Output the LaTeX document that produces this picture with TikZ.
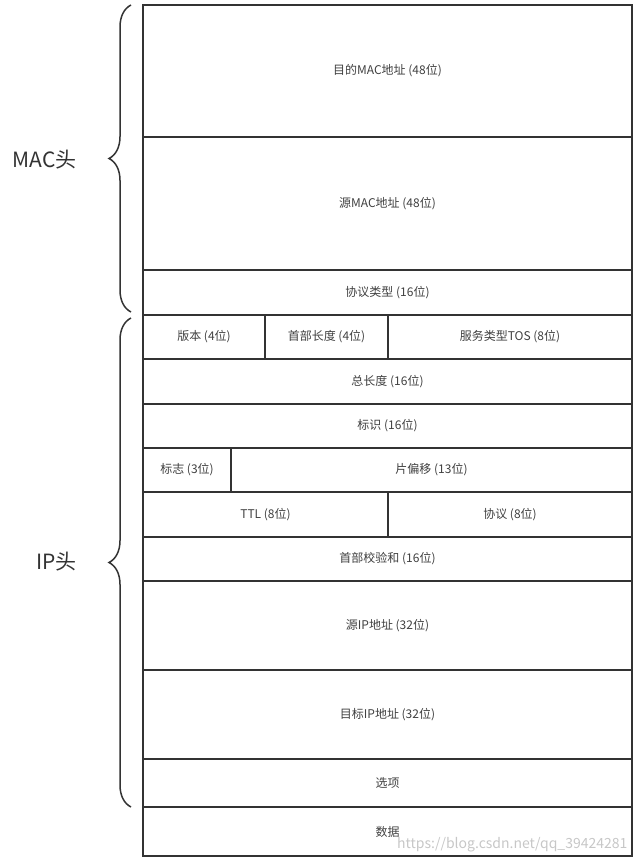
\documentclass[tikz,border=0pt]{standalone}
\usepackage{fontspec}
\setmainfont{Noto Sans CJK SC}
\usetikzlibrary{positioning,decorations.pathreplacing}

\begin{document}
\begin{tikzpicture}[x=1pt, y=-1pt, font=\fontsize{12}{14}\selectfont]
\tikzset{
  cell/.style={rectangle, draw=black!80, line width=1.5pt, inner sep=0pt, outer sep=0pt, anchor=north west, text=black!75},
  brc/.style={decorate, decoration={brace, amplitude=22pt, mirror}, draw=black!80, line width=1.5pt},
  lbl/.style={font=\fontsize{21}{25}\selectfont, text=black!80, anchor=east},
}
\useasboundingbox (0,0) rectangle (636,862);
% MAC header
\node[cell, minimum width=489pt, minimum height=132pt] (dstmac) at (143,5) {目的MAC地址 (48位)};
\node[cell, minimum width=489pt, minimum height=133pt] (srcmac) at (143,137) {源MAC地址 (48位)};
\node[cell, minimum width=489pt, minimum height=45pt] (ethtype) at (143,270) {协议类型 (16位)};
% IP header
\node[cell, minimum width=122pt, minimum height=44pt] (ver) at (143,315) {版本 (4位)};
\node[cell, minimum width=123pt, minimum height=44pt] (hlen) at (265,315) {首部长度 (4位)};
\node[cell, minimum width=244pt, minimum height=44pt] (tos) at (388,315) {服务类型TOS (8位)};
\node[cell, minimum width=489pt, minimum height=45pt] (totlen) at (143,359) {总长度 (16位)};
\node[cell, minimum width=489pt, minimum height=44pt] (ident) at (143,404) {标识 (16位)};
\node[cell, minimum width=88pt, minimum height=44pt] (flags) at (143,448) {标志 (3位)};
\node[cell, minimum width=401pt, minimum height=44pt] (fragoff) at (231,448) {片偏移 (13位)};
\node[cell, minimum width=245pt, minimum height=45pt] (ttl) at (143,492) {TTL (8位)};
\node[cell, minimum width=244pt, minimum height=45pt] (proto) at (388,492) {协议 (8位)};
\node[cell, minimum width=489pt, minimum height=44pt] (hcksum) at (143,537) {首部校验和 (16位)};
\node[cell, minimum width=489pt, minimum height=89pt] (srcip) at (143,581) {源IP地址 (32位)};
\node[cell, minimum width=489pt, minimum height=89pt] (dstip) at (143,670) {目标IP地址 (32位)};
\node[cell, minimum width=489pt, minimum height=48pt] (opts) at (143,759) {选项};
% payload
\node[cell, minimum width=489pt, minimum height=49pt] (payload) at (143,807) {数据};
% braces
\coordinate (mactop) at (131,5);
\coordinate (macbot) at (131,312);
\coordinate (iptop) at (131,318);
\coordinate (ipbot) at (131,807);
\draw[brc] (mactop) -- (macbot);
\draw[brc] (iptop) -- (ipbot);
\node[lbl] (mac) at (80,160) {MAC头};
\node[lbl] (ip) at (80,562) {IP头};
\node[text=black!22, font=\fontsize{14}{16}\selectfont, anchor=east] (wm) at (631,845) {https://blog.csdn.net/qq\_39424281};
\end{tikzpicture}
\end{document}
